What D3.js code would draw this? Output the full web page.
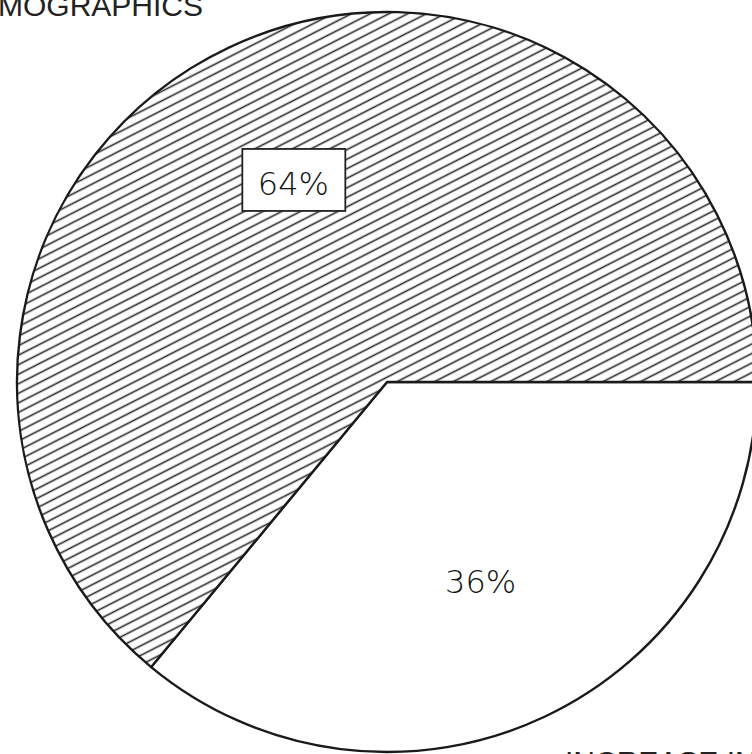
<!DOCTYPE html>
<html>
<head>
<meta charset="utf-8">
<script src="https://cdn.jsdelivr.net/npm/d3@7"></script>
<style>
  html, body { margin: 0; padding: 0; background: #fff; }
  svg { display: block; }
</style>
</head>
<body>
<svg id="chart" width="752" height="754"></svg>
<script>
// Share of respondents by answer
const categories = ["36%", "64%"];
const values = [36, 64];
const hatched = [false, true];

const titleText = "MOGRAPHICS";
const footText = "INCREASE IN";

const W = 752, H = 754;
const cx = 387, cy = 382, R = 370;

const svg = d3.select("#chart");

// diagonal hatching used for the larger slice
const defs = svg.append("defs");
const pat = defs.append("pattern")
  .attr("id", "hatch")
  .attr("patternUnits", "userSpaceOnUse")
  .attr("width", 12)
  .attr("height", 8.5)
  .attr("patternTransform", "rotate(-27)");
pat.append("rect").attr("width", 12).attr("height", 8.5).attr("fill", "#fff");
pat.append("line")
  .attr("x1", 0).attr("x2", 12)
  .attr("y1", 4.25).attr("y2", 4.25)
  .attr("stroke", "#2a2a2a")
  .attr("stroke-width", 1.6);

const pie = d3.pie()
  .sort(null)
  .value(d => d)
  .startAngle(Math.PI / 2)
  .endAngle(Math.PI / 2 + 2 * Math.PI);

const arcs = pie(values);
const arc = d3.arc().innerRadius(0).outerRadius(R);
const labelArc = d3.arc().innerRadius(220).outerRadius(220);

const g = svg.append("g").attr("transform", `translate(${cx},${cy})`);

g.selectAll("path.slice")
  .data(arcs)
  .join("path")
  .attr("class", "slice")
  .attr("d", arc)
  .attr("fill", (d, i) => hatched[i] ? "url(#hatch)" : "#fff")
  .attr("stroke", "#1a1a1a")
  .attr("stroke-width", 2.4)
  .attr("stroke-linejoin", "round");

// percentage labels; the hatched slice gets a boxed label
arcs.forEach((d, i) => {
  const [x, y] = labelArc.centroid(d);
  const lg = g.append("g").attr("transform", `translate(${x},${y})`);
  if (hatched[i]) {
    lg.append("rect")
      .attr("x", -51).attr("y", -34)
      .attr("width", 103).attr("height", 62)
      .attr("fill", "#fff")
      .attr("stroke", "#222")
      .attr("stroke-width", 1.8);
  }
  lg.append("text")
    .attr("text-anchor", "middle")
    .attr("y", 12)
    .attr("font-family", "'DejaVu Sans', sans-serif")
    .attr("font-weight", 300)
    .attr("font-size", 32)
    .attr("fill", "#111")
    .text(categories[i]);
});

svg.append("text")
  .attr("x", -2).attr("y", 16)
  .attr("font-family", "'Liberation Sans', Arial, sans-serif")
  .attr("font-size", 30)
  .attr("fill", "#222")
  .text(titleText);

svg.append("text")
  .attr("x", 565).attr("y", 772)
  .attr("font-family", "'Liberation Sans', Arial, sans-serif")
  .attr("font-size", 30)
  .attr("fill", "#222")
  .text(footText);
</script>
</body>
</html>
